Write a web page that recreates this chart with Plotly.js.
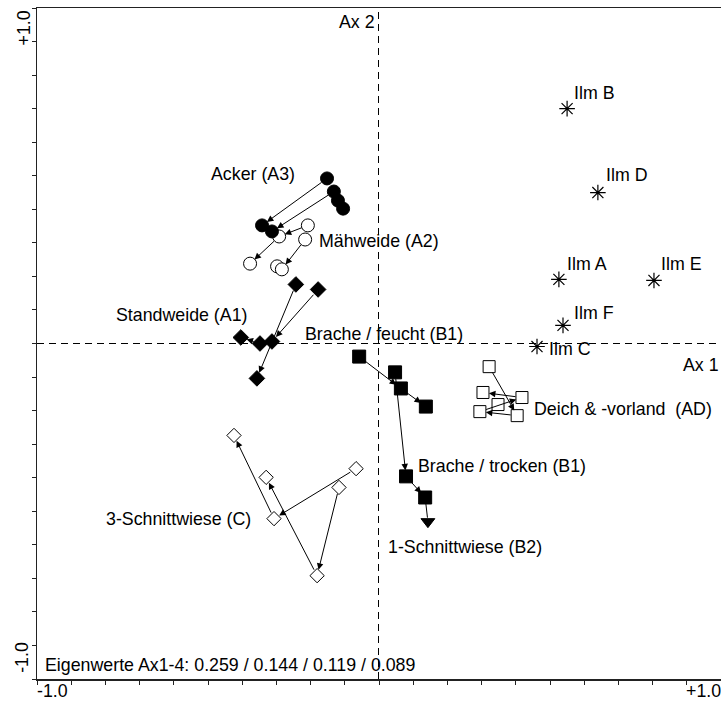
<!DOCTYPE html>
<html>
<head>
<meta charset="utf-8">
<script src="https://cdn.plot.ly/plotly-3.0.1.min.js"></script>
<style>html,body{margin:0;padding:0;background:#fff;}#chart{width:721px;height:701px;}</style>
</head>
<body>
<div id="chart"></div>
<script>
// ---- Data (ordination scores, Ax 1 / Ax 2) ----
const ackerX = [-0.152, -0.132, -0.120, -0.105, -0.342, -0.313];
const ackerY = [0.492, 0.453, 0.426, 0.402, 0.352, 0.334];
const ackerArrows = [[0, 4], [1, 5]];

const maehX = [-0.208, -0.292, -0.216, -0.377, -0.298, -0.284];
const maehY = [0.352, 0.319, 0.310, 0.238, 0.230, 0.221];
const maehArrows = [[0, 1], [1, 3], [2, 5]];

const standX = [-0.243, -0.178, -0.404, -0.348, -0.313, -0.357];
const standY = [0.176, 0.161, 0.018, 0.000, 0.006, -0.104];
const standArrows = [[0, 5], [1, 4], [3, 2]];

const feuchtX = [-0.058, 0.047, 0.064, 0.137];
const feuchtY = [-0.039, -0.086, -0.134, -0.188];
const feuchtArrows = [[0, 2], [2, 3]];

const trockenX = [0.079, 0.135];
const trockenY = [-0.396, -0.459];
const trockenArrows = [[0, 1]];

const einX = [0.143];
const einY = [-0.531];

const deichX = [0.322, 0.304, 0.418, 0.348, 0.295, 0.404];
const deichY = [-0.069, -0.146, -0.161, -0.182, -0.203, -0.215];
const deichArrows = [[0, 5], [2, 1], [4, 2], [5, 4]];

const dreiX = [-0.424, -0.330, -0.067, -0.117, -0.307, -0.181];
const dreiY = [-0.274, -0.399, -0.373, -0.429, -0.522, -0.692];
const dreiArrows = [[4, 0], [5, 1], [2, 4], [3, 5]];

const ilmNames = ["Ilm B", "Ilm D", "Ilm A", "Ilm E", "Ilm F", "Ilm C"];
const ilmX = [0.550, 0.640, 0.526, 0.804, 0.538, 0.462];
const ilmY = [0.700, 0.450, 0.191, 0.188, 0.054, -0.009];

const eigenText = "Eigenwerte Ax1-4: 0.259 / 0.144 / 0.119 / 0.089";

// ---- Styling ----
const FONT = {family: "Liberation Sans, Arial, sans-serif", size: 17.8, color: "#000"};

function pts(x, y, symbol, fill, size, name) {
  return {
    type: "scatter", mode: "markers", x: x, y: y, name: name, hoverinfo: "skip",
    marker: {symbol: symbol, color: fill, size: size, line: {color: "#000", width: 1}}
  };
}

const traces = [
  pts(dreiX, dreiY, "diamond", "#fff", 11, "3-Schnittwiese"),
  pts(deichX, deichY, "square", "#fff", 12, "Deich"),
  pts(maehX, maehY, "circle", "#fff", 13, "Mähweide"),
  pts(ackerX, ackerY, "circle", "#000", 13, "Acker"),
  pts(standX, standY, "diamond", "#000", 12, "Standweide"),
  pts(feuchtX, feuchtY, "square", "#000", 13, "Brache feucht"),
  pts(trockenX, trockenY, "square", "#000", 13, "Brache trocken"),
  pts(einX, einY, "triangle-down", "#000", 12, "1-Schnittwiese"),
  {
    type: "scatter", mode: "markers", x: ilmX, y: ilmY, hoverinfo: "skip",
    marker: {symbol: "asterisk-open", size: 13, color: "#000", line: {color: "#000", width: 1.2}}
  }
];

const annotations = [];
function arrow(x1, y1, x0, y0, head) {
  annotations.push({
    xref: "x", yref: "y", axref: "x", ayref: "y",
    x: x1, y: y1, ax: x0, ay: y0,
    text: "", showarrow: true, arrowhead: head, arrowsize: 1.3, arrowwidth: 1,
    arrowcolor: "#000", standoff: head ? 6 : 4, startstandoff: 5
  });
}
function addArrows(x, y, list) {
  list.forEach(function (p) { arrow(x[p[1]], y[p[1]], x[p[0]], y[p[0]], 2); });
}
addArrows(ackerX, ackerY, ackerArrows);
addArrows(maehX, maehY, maehArrows);
addArrows(standX, standY, standArrows);
addArrows(feuchtX, feuchtY, feuchtArrows);
addArrows(trockenX, trockenY, trockenArrows);
addArrows(deichX, deichY, deichArrows);
addArrows(dreiX, dreiY, dreiArrows);
// Brache feucht -> Brache trocken, Brache trocken -> 1-Schnittwiese
arrow(trockenX[0], trockenY[0], feuchtX[1], feuchtY[1], 2);
arrow(einX[0], einY[0], trockenX[1], trockenY[1], 0);

function label(text, x, y, anchor) {
  annotations.push({xref: "x", yref: "y", x: x, y: y, text: text, showarrow: false,
    xanchor: anchor || "left", yanchor: "middle", font: FONT, borderpad: 0, borderwidth: 0});
}
label("Acker (A3)", -0.491, 0.504);
label("Mähweide (A2)", -0.175, 0.307);
label("Standweide (A1)", -0.769, 0.086);
label("Brache / feucht (B1)", -0.216, 0.027);
label("Deich &amp; -vorland  (AD)", 0.453, -0.194);
label("Brache / trocken (B1)", 0.114, -0.364);
label("3-Schnittwiese (C)", -0.798, -0.522);
label("1-Schnittwiese (B2)", 0.026, -0.608);
const ilmLabelPos = [[0.570, 0.748], [0.664, 0.501], [0.550, 0.238], [0.825, 0.238], [0.570, 0.092], [0.497, -0.015]];
ilmNames.forEach(function (n, i) { label(n, ilmLabelPos[i][0], ilmLabelPos[i][1]); });
label("Ax 2", -0.012, 0.957, "right");
label("Ax 1", 0.994, -0.063, "right");
label(eigenText, -0.977, -0.958);

// axis end labels
annotations.push({xref: "x", yref: "paper", x: -1, y: 0, xanchor: "left", yanchor: "top", yshift: -2,
  text: "-1.0", showarrow: false, font: FONT, borderpad: 0, borderwidth: 0});
annotations.push({xref: "x", yref: "paper", x: 1, y: 0, xanchor: "right", yanchor: "top", yshift: -2,
  text: "+1.0", showarrow: false, font: FONT, borderpad: 0, borderwidth: 0});
annotations.push({xref: "paper", yref: "y", x: -0.019, y: 0.939, xanchor: "center", yanchor: "middle",
  textangle: -90, text: "+1.0", showarrow: false, font: FONT, borderpad: 0, borderwidth: 0});
annotations.push({xref: "paper", yref: "y", x: -0.023, y: -0.936, xanchor: "center", yanchor: "middle",
  textangle: -90, text: "-1.0", showarrow: false, font: FONT, borderpad: 0, borderwidth: 0});

// origin cross-hairs (nudged half a pixel so the 1px dashes render crisp)
const zeroX = -0.5 / 342;
const shapes = [
  {type: "line", xref: "x", yref: "y", x0: zeroX, x1: zeroX, y0: -1, y1: 1, line: {color: "#000", width: 1, dash: "7px,5px"}},
  {type: "line", xref: "x", yref: "y", x0: -1, x1: 1, y0: 0, y1: 0, line: {color: "#000", width: 1, dash: "7px,5px"}}
];

const axisBase = {
  range: [-1, 1], showgrid: false, zeroline: false, showline: true, linecolor: "#222", linewidth: 1.5,
  ticks: "outside", ticklen: 4, tickwidth: 1, tickcolor: "#222", tick0: -1, dtick: 0.1,
  showticklabels: false, fixedrange: true
};

const layout = {
  width: 721, height: 701,
  margin: {l: 37, r: 0, t: 8, b: 22, pad: 0},
  paper_bgcolor: "#fff", plot_bgcolor: "#fff",
  showlegend: false,
  xaxis: Object.assign({}, axisBase, {mirror: true}),
  yaxis: Object.assign({}, axisBase),
  font: FONT,
  annotations: annotations,
  shapes: shapes
};

Plotly.newPlot("chart", traces, layout, {staticPlot: true, displayModeBar: false});
</script>
</body>
</html>
